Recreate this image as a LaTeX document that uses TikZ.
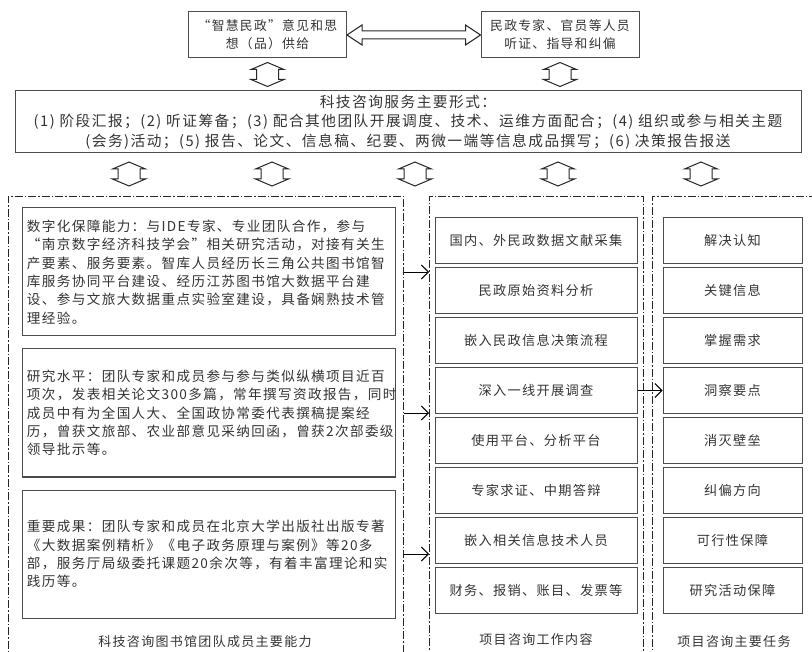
\documentclass[tikz,border=0pt]{standalone}
\usepackage{fontspec}
\setmainfont{Noto Sans CJK SC}[LetterSpace=10]
\usepackage{tikz}
\usetikzlibrary{positioning, calc, arrows.meta}
\tikzstyle{box} = [draw=black!70, line width=1pt, text=black!80, inner sep=0pt]
\tikzstyle{topbox} = [box, minimum width=158pt, minimum height=46pt, align=center, font=\fontsize{12.8}{18}\selectfont]
\tikzstyle{formbox} = [box, minimum width=786pt, minimum height=62pt, align=center, font=\fontsize{14.7}{19.5}\selectfont]
\tikzstyle{capbox} = [box, minimum height=128pt, inner xsep=5pt, text width=363pt, align=left, font=\fontsize{13.6}{18.3}\selectfont]
\tikzstyle{workbox} = [box, minimum width=202pt, minimum height=46pt, font=\fontsize{13.2}{16}\selectfont]
\tikzstyle{taskbox} = [box, minimum width=139pt, minimum height=46pt, font=\fontsize{13.2}{16}\selectfont]
\tikzstyle{dashframe} = [draw=black!85, line width=0.8pt, dash pattern=on 8pt off 2pt on 1.5pt off 2pt]
\tikzstyle{note} = [text=black!80, font=\fontsize{13}{16}\selectfont]
\tikzstyle{hollow} = [draw=black!85, line width=1pt, fill=white, line join=miter]
\tikzstyle{arrow} = [line width=0.9pt, -{Straight Barb[length=7pt, width=14pt]}]
\tikzset{biarrow/.pic={
  \draw[hollow] (0,-12) -- (16.5,-5) -- (11,-5) -- (11,5) -- (16.5,5) -- (0,12)
    -- (-16.5,5) -- (-11,5) -- (-11,-5) -- (-16.5,-5) -- cycle;}}

\begin{document}
\begin{tikzpicture}[x=1pt, y=-1pt]
\useasboundingbox (0,0) rectangle (812,652);

\node[topbox] (supply) at (267.5,35) {“智慧民政”意见和思\\想（品）供给};
\node[topbox] (expert) at (560,35) {民政专家、官员等人员\\听证、指导和纠偏};
\draw[hollow] (supply.east) -- ++(15,-10) -- ++(0,6) -- ($(expert.west)+(-15,-4)$)
  -- ++(0,-6) -- (expert.west) -- ++(-15,10) -- ++(0,-6)
  -- ($(supply.east)+(15,4)$) -- ++(0,6) -- cycle;

\node[formbox] (forms) at (408,122) {科技咨询服务主要形式：\\
  (1) 阶段汇报；(2) 听证筹备；(3) 配合其他团队开展调度、技术、运维方面配合；(4) 组织或参与相关主题\\
  (会务)活动；(5) 报告、论文、信息稿、纪要、两微一端等信息成品撰写；(6) 决策报告报送};

\pic at ($(supply.south)!0.5!(supply.south |- forms.north)$) {biarrow};
\pic at ($(expert.south)!0.5!(expert.south |- forms.north)$) {biarrow};
\foreach \ax in {129,272,415,558,701}
  \pic at (\ax,174) {biarrow};

% three columns
\node[dashframe, anchor=north west, minimum width=395pt, minimum height=480pt] (capframe) at (8,196) {};
\node[dashframe, anchor=north west, minimum width=214pt, minimum height=480pt] (workframe) at (429,196) {};
\node[dashframe, anchor=north west, minimum width=180pt, minimum height=480pt] (taskframe) at (652,196) {};

\node[capbox] (cap1) at (208.5,272) {数字化保障能力：与IDE专家、专业团队合作，参与\\
  “南京数字经济科技学会”相关研究活动，对接有关生\\
  产要素、服务要素。智库人员经历长三角公共图书馆智\\
  库服务协同平台建设、经历江苏图书馆大数据平台建\\
  设、参与文旅大数据重点实验室建设，具备娴熟技术管\\
  理经验。};
\node[capbox, below=12pt of cap1] (cap2) {研究水平：团队专家和成员参与参与类似纵横项目近百\\
  项次，发表相关论文300多篇，常年撰写资政报告，同时\\
  成员中有为全国人大、全国政协常委代表撰稿提案经\\
  历，曾获文旅部、农业部意见采纳回函，曾获2次部委级\\
  领导批示等。};
\node[capbox, below=12pt of cap2] (cap3) {重要成果：团队专家和成员在北京大学出版社出版专著\\
  《大数据案例精析》《电子政务原理与案例》等20多\\
  部，服务厅局级委托课题20余次等，有着丰富理论和实\\
  践历等。};
\node[note] (capnote) at (205,642) {科技咨询图书馆团队成员主要能力};

\node[workbox] (work1) at (536,240.5) {国内、外民政数据文献采集};
\node[workbox, below=3pt of work1] (work2) {民政原始资料分析};
\node[workbox, below=3pt of work2] (work3) {嵌入民政信息决策流程};
\node[workbox, below=3pt of work3] (work4) {深入一线开展调查};
\node[workbox, below=3pt of work4] (work5) {使用平台、分析平台};
\node[workbox, below=3pt of work5] (work6) {专家求证、中期答辩};
\node[workbox, below=3pt of work6] (work7) {嵌入相关信息技术人员};
\node[workbox, below=3pt of work7] (work8) {财务、报销、账目、发票等};
\node[note] (worknote) at (536,640) {项目咨询工作内容};

\node[taskbox] (task1) at (732.5,240.5) {解决认知};
\node[taskbox, below=3pt of task1] (task2) {关键信息};
\node[taskbox, below=3pt of task2] (task3) {掌握需求};
\node[taskbox, below=3pt of task3] (task4) {洞察要点};
\node[taskbox, below=3pt of task4] (task5) {消灭壁垒};
\node[taskbox, below=3pt of task5] (task6) {纠偏方向};
\node[taskbox, below=3pt of task6] (task7) {可行性保障};
\node[taskbox, below=3pt of task7] (task8) {研究活动保障};
\node[note] (tasknote) at (734,642) {项目咨询主要任务};

\draw[arrow] (capframe.east |- cap1.east) -- (workframe.west |- cap1.east);
\draw[arrow] (capframe.east |- cap2.east) -- (workframe.west |- cap2.east);
\draw[arrow] (capframe.east |- cap3.east) -- (workframe.west |- cap3.east);
\draw[arrow] (work4) -- (task4);

\end{tikzpicture}
\end{document}
